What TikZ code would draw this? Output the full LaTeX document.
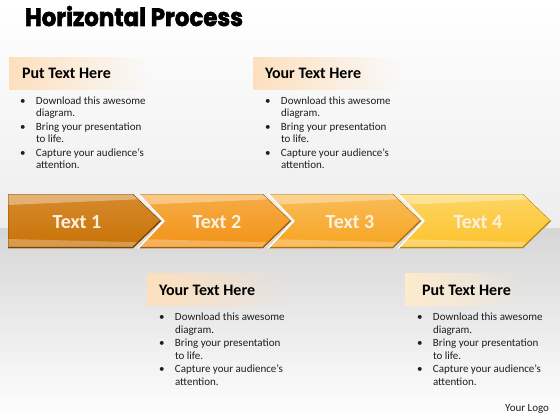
\documentclass[tikz,border=0pt]{standalone}
\usepackage{fontspec}
\setmainfont{Carlito}
\newfontfamily\titlefont{Poppins}[BoldFeatures={FakeBold=2.5}]
\usetikzlibrary{fadings}
\tikzfading[name=fadeR, left color=transparent!0, middle color=transparent!15, right color=transparent!100]
\definecolor{Aam}{RGB}{200,114,6}\definecolor{Aal}{RGB}{214,138,45}\definecolor{Aad}{RGB}{120,68,0}
\definecolor{Abm}{RGB}{242,146,22}\definecolor{Abl}{RGB}{246,172,70}\definecolor{Abd}{RGB}{160,94,8}
\definecolor{Acm}{RGB}{246,164,32}\definecolor{Acl}{RGB}{249,188,88}\definecolor{Acd}{RGB}{172,110,10}
\definecolor{Adm}{RGB}{252,194,44}\definecolor{Adl}{RGB}{253,214,100}\definecolor{Add}{RGB}{182,136,18}
\definecolor{hdrA}{RGB}{253,224,190}
\definecolor{hdrB}{RGB}{253,236,204}
\definecolor{bodytext}{RGB}{30,30,30}
\definecolor{labtext}{RGB}{252,240,222}
\newcommand\bulletblock{%
\begin{tabular}[t]{@{}p{16pt}@{}l@{}}
\textbullet & Download this awesome\\
 & diagram.\\
\textbullet & Bring your presentation\\
 & to life.\\
\textbullet & Capture your audience’s\\
 & attention.
\end{tabular}}
\begin{document}
\begin{tikzpicture}[x=1pt,y=-1pt,
  every node/.style={inner sep=0pt, outer sep=0pt},
  hdrtext/.style={anchor=base west, font=\fontsize{16}{16}\selectfont\bfseries, text=black},
  bultext/.style={anchor=base west, font=\fontsize{11}{13}\selectfont, text=bodytext},
  arrlab/.style={anchor=base, font=\fontsize{20}{20}\selectfont\bfseries, text=labtext}]
\useasboundingbox (0,0) rectangle (560,420);
% background
\shade[top color=white, middle color=white, bottom color=black!7] (0,0) rectangle (560,228);
\shade[top color=black!16, bottom color=white] (0,228) rectangle (560,420);
% title
\node[anchor=base west] (title) at (25,26) {\resizebox{218pt}{\height}{\titlefont\bfseries\fontsize{25}{25}\selectfont Horizontal Process}};
% header boxes
\fill[hdrA, path fading=fadeR] (9,57) rectangle (148,90);
\fill[hdrA, path fading=fadeR] (253,57) rectangle (400,90);
\fill[hdrA, path fading=fadeR] (147,273) rectangle (288,306);
\fill[hdrB, path fading=fadeR] (405,273) rectangle (525,306);
\node[hdrtext] (h1) at (22,78) {Put Text Here};
\node[hdrtext] (h2) at (265,78) {Your Text Here};
\node[hdrtext] (h3) at (159,295) {Your Text Here};
\node[hdrtext] (h4) at (422,295) {Put Text Here};
% bullet blocks
\node[bultext] (b1) at (20,104) {\bulletblock};
\node[bultext] (b2) at (265,104) {\bulletblock};
\node[bultext] (b3) at (159,320) {\bulletblock};
\node[bultext] (b4) at (417,320) {\bulletblock};
% arrows
\foreach \s/\n/\c in {8/0/Aa, 138/26/Ab, 268/26/Ac, 398/26/Ad} {
  \shade[top color=\c l, middle color=\c m, bottom color=\c m]
    (\s,194) -- (\s+125,194) -- (\s+153,221) -- (\s+125,248) -- (\s,248) -- (\s+\n,221) -- cycle;
  \begin{scope}
    \clip (\s,194) -- (\s+125,194) -- (\s+153,221) -- (\s+125,248) -- (\s,248) -- (\s+\n,221) -- cycle;
    \fill[white, opacity=0.35] (\s,194) -- (\s+160,194) -- (\s+160,198) -- (\s,205) -- cycle;
    \fill[white, opacity=0.28] (\s,239) -- (\s+160,243) -- (\s+160,250) -- (\s,250) -- cycle;
    \draw[\c d, line width=0.8] (\s,194) -- (\s+125,194) -- (\s+153,221) -- (\s+125,248) -- (\s,248) -- (\s+\n,221) -- cycle;
    \draw[\c d, line width=2.4] (\s,248) -- (\s+125,248) -- (\s+153,221);
  \end{scope}
}
\foreach \s in {138,268,398} {
  \draw[white, line width=1.4, line join=miter] (\s,193.5) -- (\s+26,221) -- (\s,248.5);
}
\node[arrlab] (t1) at (77,228) {Text 1};
\node[arrlab] (t2) at (217,228) {Text 2};
\node[arrlab] (t3) at (350,228) {Text 3};
\node[arrlab] (t4) at (478,228) {Text 4};
% logo
\node[anchor=base east, font=\fontsize{11}{11}\selectfont, text=bodytext] (logo) at (549,411) {Your Logo};
\end{tikzpicture}
\end{document}
